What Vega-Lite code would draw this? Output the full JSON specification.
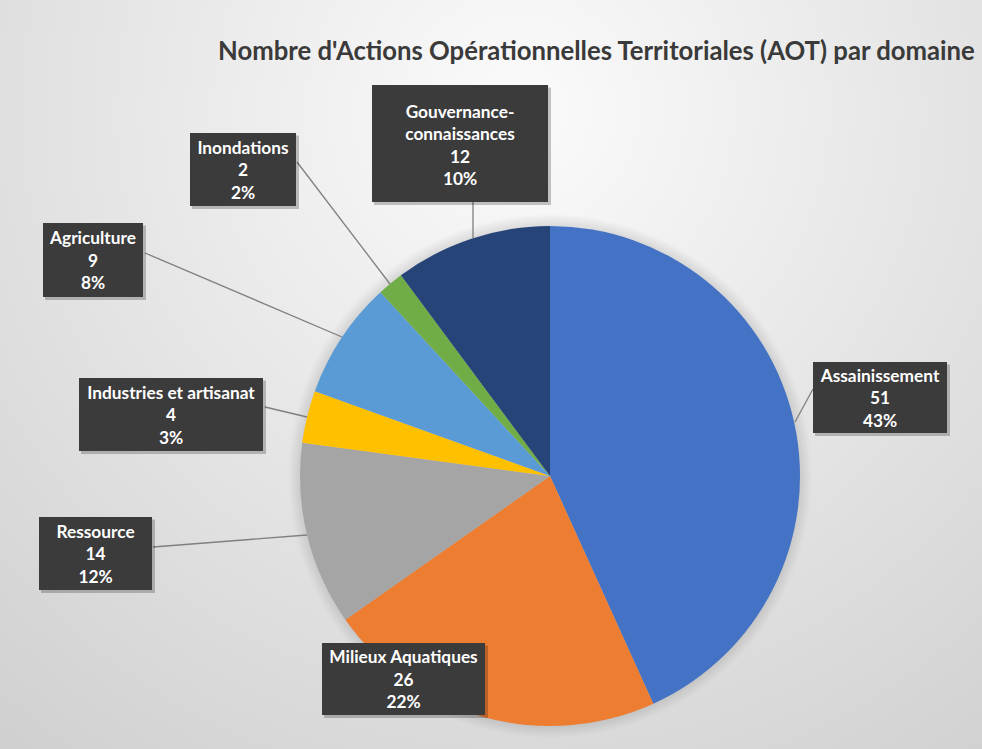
{
  "$schema": "https://vega.github.io/schema/vega-lite/v6.json",
  "autosize": {"type": "none"},
  "padding": {"left": 300, "top": 226, "right": 182, "bottom": 23},
  "width": 500,
  "height": 500,
  "background": "white",
  "config": {"view": {"stroke": null}},
  "title": {
    "text": "Nombre d'Actions Opérationnelles Territoriales (AOT) par domaine",
    "anchor": "start",
    "frame": "group",
    "dx": -82,
    "offset": -610,
    "baseline": "alphabetic",
    "font": "Lato",
    "fontSize": 25.7,
    "fontWeight": "bold",
    "color": "#3a3a3a"
  },
  "data": {
    "values": [
      {"domaine": "Assainissement", "n": 51, "pct": 0.43, "rang": 1, "etiquette": ["Assainissement", "51", "43%"]},
      {"domaine": "Milieux Aquatiques", "n": 26, "pct": 0.22, "rang": 2, "etiquette": ["Milieux Aquatiques", "26", "22%"]},
      {"domaine": "Ressource", "n": 14, "pct": 0.12, "rang": 3, "etiquette": ["Ressource", "14", "12%"]},
      {"domaine": "Industries et artisanat", "n": 4, "pct": 0.03, "rang": 4, "etiquette": ["Industries et artisanat", "4", "3%"]},
      {"domaine": "Agriculture", "n": 9, "pct": 0.08, "rang": 5, "etiquette": ["Agriculture", "9", "8%"]},
      {"domaine": "Inondations", "n": 2, "pct": 0.02, "rang": 6, "etiquette": ["Inondations", "2", "2%"]},
      {"domaine": "Gouvernance-connaissances", "n": 12, "pct": 0.10, "rang": 7, "etiquette": ["Gouvernance-", "connaissances", "12", "10%"]}
    ]
  },
  "resolve": {"scale": {"x": "independent", "y": "independent"}},
  "layer": [
    {
      "data": {"values": [{"fond": "dégradé"}]},
      "mark": {
        "type": "arc",
        "radius": 1000,
        "theta": 0,
        "theta2": 6.2832,
        "fill": {
          "gradient": "radial",
          "x1": 0.485, "y1": 0.317, "r1": 0,
          "x2": 0.485, "y2": 0.317, "r2": 0.5,
          "stops": [
            {"offset": 0, "color": "#fbfbfb"},
            {"offset": 0.4, "color": "#e6e6e6"},
            {"offset": 1, "color": "#c6c6c6"}
          ]
        }
      },
      "encoding": {}
    },
    {
      "data": {"values": [{"ombre": "secteurs"}]},
      "mark": {
        "type": "arc",
        "radius": 262,
        "theta": 0,
        "theta2": 6.2832,
        "fill": {
          "gradient": "radial",
          "x1": 0.5, "y1": 0.5, "r1": 0,
          "x2": 0.5, "y2": 0.5, "r2": 0.5,
          "stops": [
            {"offset": 0.93, "color": "rgba(0,0,0,0.16)"},
            {"offset": 1, "color": "rgba(0,0,0,0)"}
          ]
        }
      },
      "encoding": {}
    },
    {
      "mark": {"type": "arc", "radius": 250, "stroke": null},
      "encoding": {
        "theta": {"field": "n", "type": "quantitative", "stack": true},
        "order": {"field": "rang", "type": "quantitative"},
        "color": {
          "field": "domaine",
          "type": "nominal",
          "legend": null,
          "scale": {
            "domain": ["Assainissement", "Milieux Aquatiques", "Ressource", "Industries et artisanat", "Agriculture", "Inondations", "Gouvernance-connaissances"],
            "range": ["#4472C4", "#ED7D31", "#A5A5A5", "#FFC000", "#5B9BD5", "#70AD47", "#264478"]
          }
        }
      }
    },
    {
      "transform": [{"filter": {"not": {"field": "domaine", "equal": "Milieux Aquatiques"}}}],
      "mark": {"type": "rule", "color": "#7f7f7f", "strokeWidth": 1.3},
      "encoding": {
        "x": {"field": "n", "type": "quantitative", "axis": null,
          "scale": {"domain": [0.02, 0.03, 0.08, 0.10, 0.12, 0.43, 2, 4, 9, 12, 14, 51],
                    "range": [90, 7, 42, 173, 7, 495, -3, -35, -155, 173, -147, 513]}},
        "x2": {"field": "pct"},
        "y": {"field": "n", "type": "quantitative", "axis": null,
          "scale": {"domain": [0.02, 0.03, 0.08, 0.10, 0.12, 0.43, 2, 4, 9, 12, 14, 51],
                    "range": [58, 191, 111, 12, 309, 196, -64, 181, 27, -24, 321, 163]}},
        "y2": {"field": "pct"}
      }
    },
    {
      "encoding": {
        "x": {"field": "n", "type": "quantitative", "axis": null,
          "scale": {"domain": [2, 4, 9, 12, 14, 26, 51], "range": [-57, -129, -207, 160, -204.5, 103.5, 580]}},
        "y": {"field": "n", "type": "quantitative", "axis": null,
          "scale": {"domain": [2, 4, 9, 12, 14, 26, 51], "range": [-56.5, 188.5, 34, -82.5, 327.5, 453, 171.5]}}
      },
      "resolve": {"scale": {"shape": "independent"}},
      "layer": [
        {
          "mark": {"type": "point", "filled": true, "size": 4, "fill": "#000000", "opacity": 0.22, "strokeWidth": 0},
          "encoding": {
            "shape": {
              "field": "domaine", "type": "nominal", "legend": null,
              "scale": {
                "domain": ["Assainissement", "Milieux Aquatiques", "Ressource", "Industries et artisanat", "Agriculture", "Inondations", "Gouvernance-connaissances"],
                "range": [
                  "M-65,-33H70V38.5H-65Z",
                  "M-79.5,-33.5H84.5V39H-79.5Z",
                  "M-54.5,-34H59.5V39.5H-54.5Z",
                  "M-90,-34H95V39.5H-90Z",
                  "M-48,-34.5H53V40H-48Z",
                  "M-51,-34H56V39.5H-51Z",
                  "M-86,-56H91V61.5H-86Z"
                ]
              }
            }
          }
        },
        {
          "mark": {"type": "point", "filled": true, "size": 4, "fill": "#3b3b3b", "opacity": 1, "strokeWidth": 0},
          "encoding": {
            "shape": {
              "field": "domaine", "type": "nominal", "legend": null,
              "scale": {
                "domain": ["Assainissement", "Milieux Aquatiques", "Ressource", "Industries et artisanat", "Agriculture", "Inondations", "Gouvernance-connaissances"],
                "range": [
                  "M-67,-35.5H67V35.5H-67Z",
                  "M-81.5,-36H81.5V36H-81.5Z",
                  "M-56.5,-36.5H56.5V36.5H-56.5Z",
                  "M-92,-36.5H92V36.5H-92Z",
                  "M-50,-37H50V37H-50Z",
                  "M-53,-36.5H53V36.5H-53Z",
                  "M-88,-58.5H88V58.5H-88Z"
                ]
              }
            }
          }
        },
        {
          "transform": [{"filter": {"not": {"field": "domaine", "equal": "Gouvernance-connaissances"}}}],
          "mark": {"type": "text", "font": "Lato", "fontSize": 17.3, "fontWeight": "bold", "color": "#ffffff", "align": "center", "baseline": "middle", "lineHeight": 22.5, "dy": -21},
          "encoding": {"text": {"field": "etiquette", "type": "nominal"}}
        },
        {
          "transform": [{"filter": {"field": "domaine", "equal": "Gouvernance-connaissances"}}],
          "mark": {"type": "text", "font": "Lato", "fontSize": 17.3, "fontWeight": "bold", "color": "#ffffff", "align": "center", "baseline": "middle", "lineHeight": 22.5, "dy": -31},
          "encoding": {"text": {"field": "etiquette", "type": "nominal"}}
        }
      ]
    }
  ]
}
